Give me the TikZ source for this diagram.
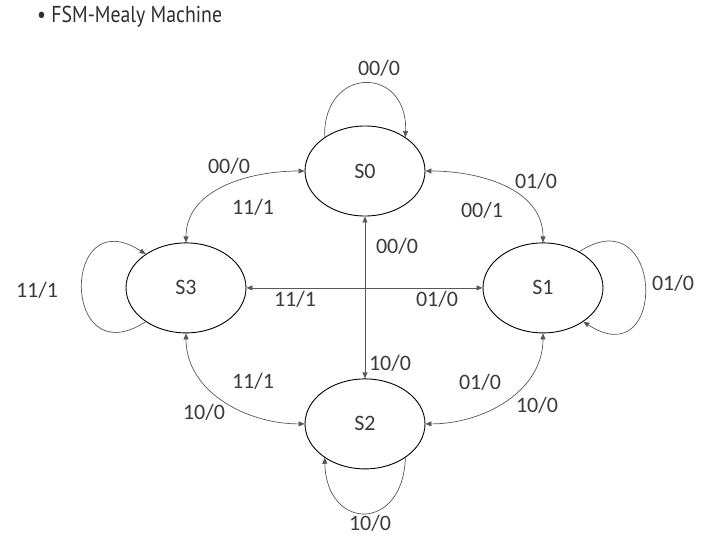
\documentclass[tikz,border=0pt]{standalone}
\usepackage{fontspec}
\setmainfont{Carlito}
\newfontfamily\titlefont{PT Sans}
\usepackage{graphicx}
\usepackage{tikz}
\usetikzlibrary{positioning,arrows.meta,shapes.geometric}

\definecolor{edgeGray}{HTML}{575757}
\definecolor{textGray}{HTML}{3A3A3A}

\begin{document}
\begin{tikzpicture}[x=1pt, y=1pt]
\tikzset{
    stateStyle/.style={ellipse, draw=black, line width=0.9pt, minimum width=120pt, minimum height=90pt, inner sep=0pt, font=\fontsize{22}{26}\selectfont, text=textGray},
    labelStyle/.style={font=\fontsize{22}{26}\selectfont, text=textGray, inner sep=0pt},
    transArrow/.style={{Triangle[length=6pt, width=5pt]}-{Triangle[length=6pt, width=5pt]}, line width=0.7pt, edgeGray},
    loopArrow/.style={-{Triangle[length=6pt, width=5pt]}, line width=0.7pt, edgeGray}
}

\useasboundingbox (0,0) rectangle (718,-555);

\node[font=\titlefont\fontsize{23}{27}\selectfont, text=textGray!80!black, anchor=west, inner sep=0pt] (title) at (37,-17) {\scalebox{0.86}[1]{\textbullet\ FSM-Mealy Machine}};

% states
\node[stateStyle] (s0) at (365,-171) {S0};
\node[stateStyle, below=26pt of s0, xshift=-179pt] (s3) {S3};
\node[stateStyle, below=26pt of s0, xshift=178pt] (s1) {S1};
\node[stateStyle, below=162pt of s0] (s2) {S2};

% transitions between states
\draw[transArrow] (s0.west) to[out=180, in=90] (s3.north);
\draw[transArrow] (s0.east) to[out=0, in=90] (s1.north);
\draw[transArrow] (s0.south) -- (s2.north);
\draw[transArrow] (s3.east) -- (s1.west);
\draw[transArrow] (s3.south) to[out=-90, in=180] (s2.west);
\draw[transArrow] (s1.south) to[out=-90, in=0] (s2.east);

% self loops
\draw[loopArrow] (s0.140) .. controls +(-2,72) and +(3,72) .. (s0.40);
\draw[loopArrow] (s1.45) .. controls +(85,55) and +(85,-55) .. (s1.-40);
\draw[loopArrow] (s3.-140) .. controls +(-85,-55) and +(-85,55) .. (s3.140);
\draw[loopArrow] (s2.-40) .. controls +(-2,-74) and +(2,-74) .. (s2.-140);

% labels
\node[labelStyle] (l00) at (379,-68) {00/0};
\node[labelStyle] (l03a) at (229,-166) {00/0};
\node[labelStyle] (l03b) at (253,-207) {11/1};
\node[labelStyle] (l01a) at (536,-181) {01/0};
\node[labelStyle] (l01b) at (482,-210) {00/1};
\node[labelStyle] (l02a) at (397,-246) {00/0};
\node[labelStyle] (l02b) at (390,-363) {10/0};
\node[labelStyle] (l31a) at (295,-299) {11/1};
\node[labelStyle] (l31b) at (437,-299) {01/0};
\node[labelStyle] (l32a) at (253,-381) {11/1};
\node[labelStyle] (l32b) at (204,-412) {10/0};
\node[labelStyle] (l12a) at (480,-382) {01/0};
\node[labelStyle] (l12b) at (537,-405) {10/0};
\node[labelStyle] (l11) at (673,-283) {01/0};
\node[labelStyle] (l33) at (37,-290) {11/1};
\node[labelStyle] (l22) at (370,-523) {10/0};

\end{tikzpicture}
\end{document}
